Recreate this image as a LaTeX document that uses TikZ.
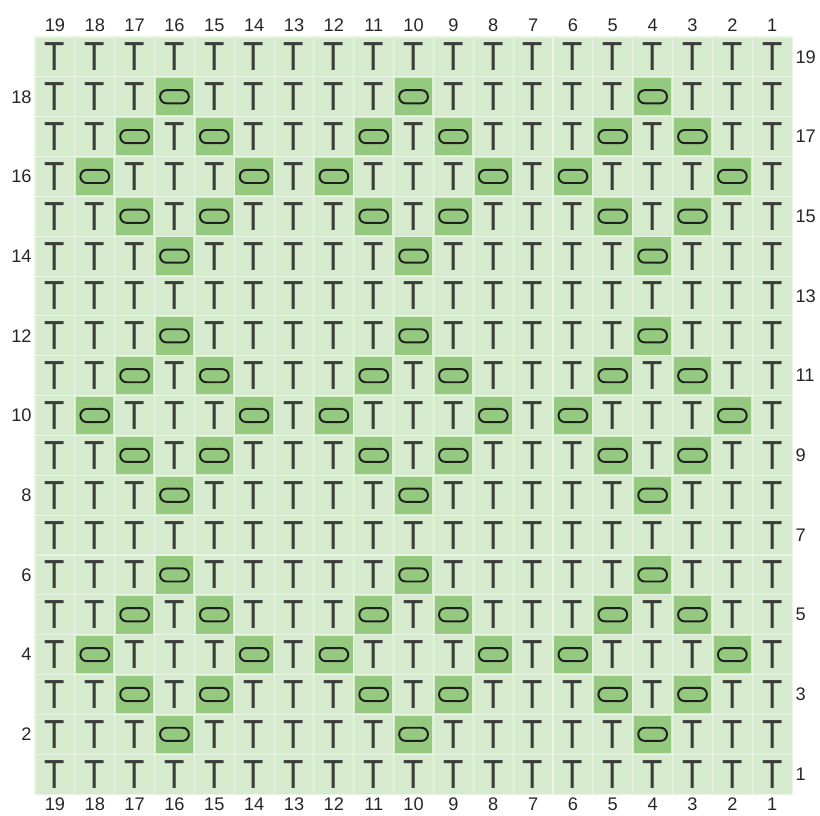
\documentclass[tikz,border=0pt]{standalone}
\usepackage{fontspec}
\setmainfont{Liberation Sans}
\usetikzlibrary{positioning}

\definecolor{chartbg}{RGB}{214,234,206}
\definecolor{chartline}{RGB}{234,244,228}
\definecolor{purlbg}{RGB}{148,201,127}
\definecolor{stitchink}{RGB}{60,62,60}

\tikzset{
  knit/.style={text=stitchink, font=\fontsize{29}{29}\selectfont, inner sep=0pt,
    xscale=0.82, transform shape},
  purl/.style={draw=black!88, line width=1.4pt, fill=purlbg, rounded corners=0.16cm,
    minimum width=0.72cm, minimum height=0.33cm, inner sep=0pt},
  rowlab/.style={text=black!85, font=\fontsize{13}{13}\selectfont, inner sep=0pt}
}

\begin{document}
\begin{tikzpicture}
\useasboundingbox (-0.878,-0.549) rectangle (19.70,19.928);
\fill[chartbg] (0,0) rectangle (19,19);
\draw[chartline, line width=0.8pt] (0,0) grid (19,19);

% stitches
\foreach \r in {1,...,19} {
  \foreach \c in {1,...,19} {
    \pgfmathtruncatemacro{\dr}{mod(\r+2,6)}
    \pgfmathtruncatemacro{\dr}{min(\dr,6-\dr)}
    \pgfmathtruncatemacro{\dc}{mod(\c+2,6)}
    \pgfmathtruncatemacro{\dc}{min(\dc,6-\dc)}
    \pgfmathtruncatemacro{\isp}{(\dr+\dc==2)}
    \ifnum\isp=1
      \fill[purlbg] (19.03-\c,\r-0.97) rectangle (19.97-\c,\r-0.03);
      \node[purl] (p-\r-\c) at (19.5-\c,\r-0.5) {};
    \else
      \node[knit] (k-\r-\c) at (19.5-\c,\r-0.5) {T};
    \fi
  }
}

% numbers
\foreach \c in {1,...,19} {
  \node[rowlab] (top-\c) at (19.5-\c,19.3) {\c};
  \node[rowlab] (bot-\c) at (19.5-\c,-0.25) {\c};
}
\foreach \r in {1,3,...,19}
  \node[rowlab, anchor=west] (right-\r) at (19.08,\r-0.5) {\r};
\foreach \r in {2,4,...,18}
  \node[rowlab, anchor=east] (left-\r) at (-0.08,\r-0.5) {\r};
\end{tikzpicture}
\end{document}
